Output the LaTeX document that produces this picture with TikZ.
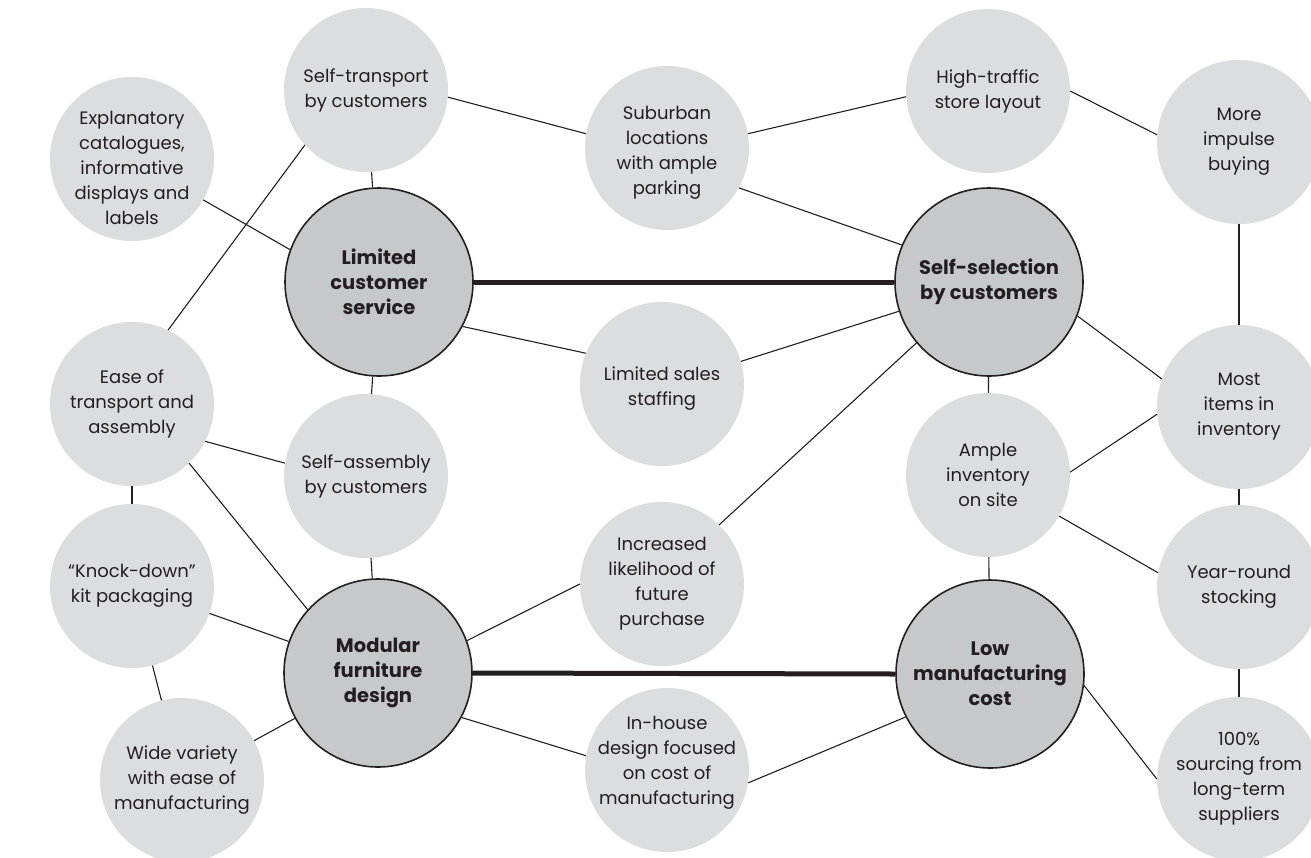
\documentclass[tikz,border=0pt]{standalone}
\usepackage{fontspec}
\setmainfont{Poppins}
\definecolor{smallfill}{HTML}{DCDDDF}
\definecolor{bigfill}{HTML}{C7C8CA}
\definecolor{ink}{HTML}{231F20}
\begin{document}
\begin{tikzpicture}[x=1pt,y=-1pt,
  small/.style={circle,fill=smallfill,draw=none,minimum size=164pt,inner sep=0pt,align=center,text=ink,
    font=\fontsize{18}{25}\selectfont},
  txt/.style={inner sep=0pt,align=center,text=ink,font=\fontsize{18}{25}\selectfont},
  big/.style={circle,fill=bigfill,draw=ink,line width=1.6pt,minimum size=188pt,inner sep=0pt,align=center,text=ink,
    font=\fontsize{19.5}{25}\selectfont\bfseries},
  thin/.style={draw=ink,line width=1.1pt},
  thick/.style={draw=ink,line width=5pt}]
\useasboundingbox (0,0) rectangle (1311,857);
\fill[white] (0,0) rectangle (1311,857);
% small nodes
\node[small] (st)   at (366,90)  {Self-transport\\by customers};
\node[small] (ex)   at (132,159) {};
\node[txt]   (ext)  at (132,168) {Explanatory\\catalogues,\\informative\\displays and\\labels};
\node[small] (sub)  at (667,148) {};
\node[txt]   (subt) at (667,153) {Suburban\\locations\\with ample\\parking};
\node[small] (ht)   at (988,91)  {High-traffic\\store layout};
\node[small] (mi)   at (1239,142) {More\\impulse\\buying};
\node[small] (ease) at (132,404) {Ease of\\transport and\\assembly};
\node[small] (lss)  at (662,384) {};
\node[txt]   (lsst) at (662,389) {Limited sales\\staffing};
\node[small] (mit)  at (1239,407) {Most\\items in\\inventory};
\node[small] (sa)   at (366,476) {Self-assembly\\by customers};
\node[small] (amp)  at (988,475) {Ample\\inventory\\on site};
\node[small] (kd)   at (132,586) {“Knock-down”\\kit packaging};
\node[small] (inc)  at (662,584) {Increased\\likelihood of\\future\\purchase};
\node[small] (yr)   at (1239,587) {Year-round\\stocking};
\node[small] (wide) at (182,780) {Wide variety\\with ease of\\manufacturing};
\node[small] (ih)   at (667,770) {};
\node[txt]   (iht)  at (667,763) {In-house\\design focused\\on cost of\\manufacturing};
\node[small] (hund) at (1239,779) {100\%\\sourcing from\\long-term\\suppliers};
% big nodes
\node[big] (lcs) at (379,282) {Limited\\customer\\service};
\node[big] (ss)  at (989,282) {Self-selection\\by customers};
\node[big] (mod) at (378,673) {Modular\\furniture\\design};
\node[big] (low) at (990,674) {Low\\manufacturing\\cost};
% thick links
\draw[thick] (lcs.east) -- (ss.west);
\draw[thick] (mod.east) -- (low.west);
% thin links
\draw[thin] (st.-5) -- (sub.170);
\draw[thin] (st) -- (lcs);
\draw[thin] (st.222) -- (ease.64);
\draw[thin] (ex) -- (lcs.160);
\draw[thin] (lcs.-28) -- (lss.158);
\draw[thin] (lcs) -- (sa);
\draw[thin] (sub.10) -- (ht.184);
\draw[thin] (sub.-29) -- (ss.157);
\draw[thin] (ht.0) -- (mi.175);
\draw[thin] (mi) -- (mit);
\draw[thin] (lss.16) -- (ss.198);
\draw[thin] (ss.-21) -- (mit.160);
\draw[thin] (ss) -- (amp);
\draw[thin] (ss.220) -- (inc.46);
\draw[thin] (amp.2) -- (mit.185);
\draw[thin] (amp.-30) -- (yr.170);
\draw[thin] (amp) -- (low);
\draw[thin] (mit) -- (yr);
\draw[thin] (yr) -- (hund);
\draw[thin] (ease.-27) -- (sa.171);
\draw[thin] (ease) -- (kd);
\draw[thin] (ease.-46) -- (mod.138);
\draw[thin] (sa) -- (mod);
\draw[thin] (kd) -- (mod);
\draw[thin] (kd) -- (wide);
\draw[thin] (wide) -- (mod);
\draw[thin] (mod.20) -- (inc.180);
\draw[thin] (mod.-28) -- (ih.170);
\draw[thin] (ih.-9) -- (low.207);
\draw[thin] (low.-7) -- (hund.180);
\end{tikzpicture}
\end{document}
